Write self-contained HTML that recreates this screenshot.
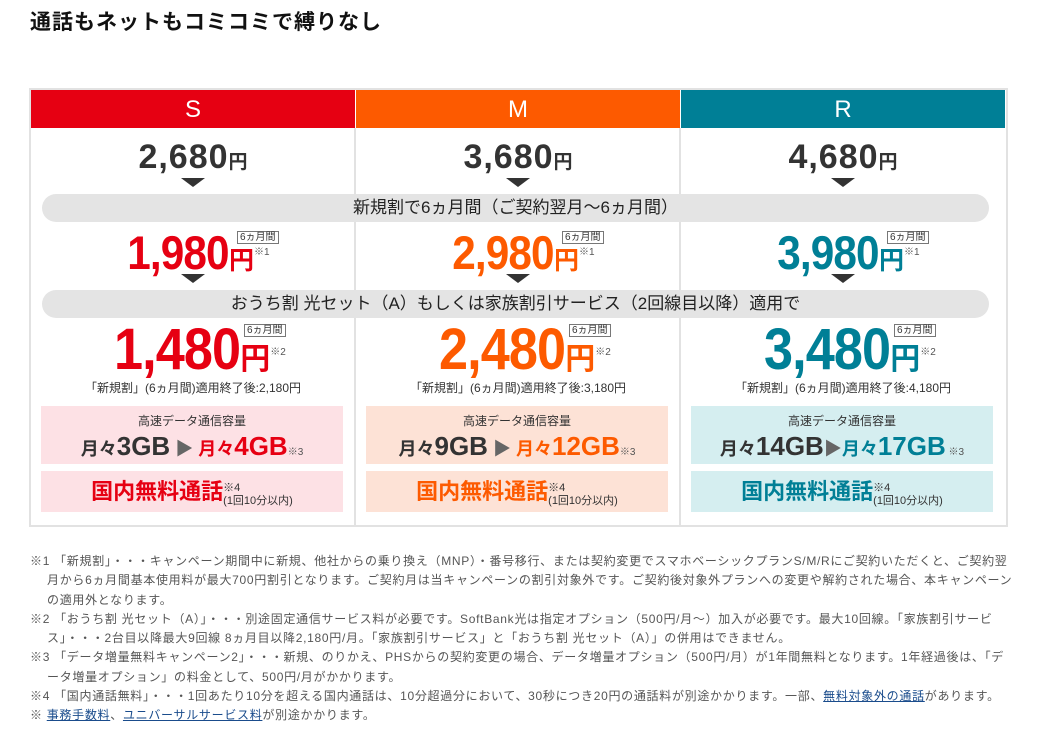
<!DOCTYPE html>
<html lang="ja"><head><meta charset="utf-8">
<style>
*{margin:0;padding:0;box-sizing:border-box}
body{width:1043px;height:733px;background:#fff;position:relative;overflow:hidden;font-family:"Liberation Sans","Noto Sans CJK JP",sans-serif;color:#333}
.abs{position:absolute}
#title{left:30px;top:6px;font-size:21px;font-weight:bold;color:#111;letter-spacing:1px}
#table{left:29px;top:88px;width:979px;height:439px;border:2px solid #e2e2e2}
.col{position:absolute;top:90px;width:324px;height:435px}
.hdr{position:absolute;left:0;top:0;width:100%;height:38px;color:#fff;font-size:24px;text-align:center;line-height:40px}
.row{position:absolute;left:0;width:100%;text-align:center;white-space:nowrap}
.num{display:inline-block;font-weight:bold;letter-spacing:-1px;transform:scaleX(.9);transform-origin:right center}
.num0{display:inline-block;font-weight:bold;letter-spacing:1px}
.yen{font-weight:bold}
.tri{position:absolute;left:50%;margin-left:-12px;width:0;height:0;border-left:12px solid transparent;border-right:12px solid transparent;border-top:9px solid #333}
.tag{display:inline-block;border:1px solid #777;font-size:10px;line-height:11px;padding:0 2px;color:#333;font-weight:normal;vertical-align:top}
.sup{font-size:10px;color:#555;font-weight:normal}
.pill{position:absolute;left:42px;width:947px;height:28px;border-radius:14px;background:#e4e4e4;text-align:center;font-size:17px;line-height:28px;color:#222}
.box{position:absolute;left:10px;width:302px;text-align:center}
.div{position:absolute;top:128px;width:2px;height:397px;background:#e2e2e2}
#notes{left:30px;top:552px;font-size:12px;line-height:19.3px;color:#555;width:985px;letter-spacing:0.7px}
#notes p{padding-left:17px;text-indent:-17px}
#notes a{color:#1a4c8c;text-decoration:underline}
</style></head><body>
<div id="title" class="abs">通話もネットもコミコミで縛りなし</div>
<div id="table" class="abs"></div>
<div class="div" style="left:354px"></div>
<div class="div" style="left:679px"></div>

<div class="pill" style="top:194px">新規割で6ヵ月間（ご契約翌月〜6ヵ月間）</div>
<div class="pill" style="top:290px">おうち割 光セット（A）もしくは家族割引サービス（2回線目以降）適用で</div>

<!-- S -->
<div class="col" style="left:31px">
 <div class="hdr" style="background:#e60012">S</div>
 <div class="row" style="top:48px;height:38px;line-height:38px"><span class="num0" style="font-size:34px;color:#333">2,680</span><span class="yen" style="font-size:19px">円</span></div>
 <div class="tri" style="top:88px"></div>
 <div class="row" style="top:140px;height:46px;line-height:46px;color:#e60012"><span class="num" style="font-size:47px">1,980</span><span class="yen" style="font-size:25px">円</span><span class="sup" style="position:relative;top:-14px">※1</span><span class="tag" style="position:absolute;left:206px;top:1px">6ヵ月間</span></div>
 <div class="tri" style="top:184px"></div>
 <div class="row" style="top:232px;height:56px;line-height:56px;color:#e60012"><span class="num" style="font-size:58px">1,480</span><span class="yen" style="font-size:30px">円</span><span class="sup" style="position:relative;top:-14px">※2</span><span class="tag" style="position:absolute;left:213px;top:2px">6ヵ月間</span></div>
 <div class="row" style="top:289px;font-size:12px">「新規割」(6ヵ月間)適用終了後:2,180円</div>
 <div class="box" style="top:316px;height:58px;background:#fde1e5"><div style="font-size:12px;margin-top:6px">高速データ通信容量</div><div style="font-size:18px;font-weight:bold;margin-top:2px">月々<span style="font-size:26px">3GB</span> <span style="color:#666">▶</span> <span style="color:#e60012">月々<span style="font-size:26px">4GB</span></span><span class="sup">※3</span></div></div>
 <div class="box" style="top:381px;height:41px;background:#fde1e5;line-height:41px"><span style="font-size:22px;font-weight:bold;color:#e60012">国内無料通話</span><span style="font-size:11px;display:inline-block;line-height:13px;vertical-align:middle;text-align:left"> ※4<br>(1回10分以内)</span></div>
</div>

<!-- M -->
<div class="col" style="left:356px">
 <div class="hdr" style="background:#fd5a00">M</div>
 <div class="row" style="top:48px;height:38px;line-height:38px"><span class="num0" style="font-size:34px">3,680</span><span class="yen" style="font-size:19px">円</span></div>
 <div class="tri" style="top:88px"></div>
 <div class="row" style="top:140px;height:46px;line-height:46px;color:#fd5a00"><span class="num" style="font-size:47px">2,980</span><span class="yen" style="font-size:25px">円</span><span class="sup" style="position:relative;top:-14px">※1</span><span class="tag" style="position:absolute;left:206px;top:1px">6ヵ月間</span></div>
 <div class="tri" style="top:184px"></div>
 <div class="row" style="top:232px;height:56px;line-height:56px;color:#fd5a00"><span class="num" style="font-size:58px">2,480</span><span class="yen" style="font-size:30px">円</span><span class="sup" style="position:relative;top:-14px">※2</span><span class="tag" style="position:absolute;left:213px;top:2px">6ヵ月間</span></div>
 <div class="row" style="top:289px;font-size:12px">「新規割」(6ヵ月間)適用終了後:3,180円</div>
 <div class="box" style="top:316px;height:58px;background:#fde2d6"><div style="font-size:12px;margin-top:6px">高速データ通信容量</div><div style="font-size:18px;font-weight:bold;margin-top:2px">月々<span style="font-size:26px">9GB</span> <span style="color:#666">▶</span> <span style="color:#fd5a00">月々<span style="font-size:26px">12GB</span></span><span class="sup">※3</span></div></div>
 <div class="box" style="top:381px;height:41px;background:#fde2d6;line-height:41px"><span style="font-size:22px;font-weight:bold;color:#fd5a00">国内無料通話</span><span style="font-size:11px;display:inline-block;line-height:13px;vertical-align:middle;text-align:left"> ※4<br>(1回10分以内)</span></div>
</div>

<!-- R -->
<div class="col" style="left:681px">
 <div class="hdr" style="background:#007f96">R</div>
 <div class="row" style="top:48px;height:38px;line-height:38px"><span class="num0" style="font-size:34px">4,680</span><span class="yen" style="font-size:19px">円</span></div>
 <div class="tri" style="top:88px"></div>
 <div class="row" style="top:140px;height:46px;line-height:46px;color:#007f96"><span class="num" style="font-size:47px">3,980</span><span class="yen" style="font-size:25px">円</span><span class="sup" style="position:relative;top:-14px">※1</span><span class="tag" style="position:absolute;left:206px;top:1px">6ヵ月間</span></div>
 <div class="tri" style="top:184px"></div>
 <div class="row" style="top:232px;height:56px;line-height:56px;color:#007f96"><span class="num" style="font-size:58px">3,480</span><span class="yen" style="font-size:30px">円</span><span class="sup" style="position:relative;top:-14px">※2</span><span class="tag" style="position:absolute;left:213px;top:2px">6ヵ月間</span></div>
 <div class="row" style="top:289px;font-size:12px">「新規割」(6ヵ月間)適用終了後:4,180円</div>
 <div class="box" style="top:316px;height:58px;background:#d5eef0"><div style="font-size:12px;margin-top:6px">高速データ通信容量</div><div style="font-size:18px;font-weight:bold;margin-top:2px">月々<span style="font-size:26px">14GB</span><span style="color:#666">▶</span><span style="color:#007f96">月々<span style="font-size:26px">17GB</span></span><span class="sup"> ※3</span></div></div>
 <div class="box" style="top:381px;height:41px;background:#d5eef0;line-height:41px"><span style="font-size:22px;font-weight:bold;color:#007f96">国内無料通話</span><span style="font-size:11px;display:inline-block;line-height:13px;vertical-align:middle;text-align:left"> ※4<br>(1回10分以内)</span></div>
</div>

<div id="notes" class="abs">
<p>※1 「新規割」・・・キャンペーン期間中に新規、他社からの乗り換え（MNP）・番号移行、または契約変更でスマホベーシックプランS/M/Rにご契約いただくと、ご契約翌月から6ヵ月間基本使用料が最大700円割引となります。ご契約月は当キャンペーンの割引対象外です。ご契約後対象外プランへの変更や解約された場合、本キャンペーンの適用外となります。</p>
<p>※2 「おうち割 光セット（A）」・・・別途固定通信サービス料が必要です。SoftBank光は指定オプション（500円/月〜）加入が必要です。最大10回線。「家族割引サービス」・・・2台目以降最大9回線 8ヵ月目以降2,180円/月。「家族割引サービス」と「おうち割 光セット（A）」の併用はできません。</p>
<p>※3 「データ増量無料キャンペーン2」・・・新規、のりかえ、PHSからの契約変更の場合、データ増量オプション（500円/月）が1年間無料となります。1年経過後は、「データ増量オプション」の料金として、500円/月がかかります。</p>
<p>※4 「国内通話無料」・・・1回あたり10分を超える国内通話は、10分超過分において、30秒につき20円の通話料が別途かかります。一部、<a>無料対象外の通話</a>があります。</p>
<p>※ <a>事務手数料</a>、<a>ユニバーサルサービス料</a>が別途かかります。</p>
</div>
</body></html>
